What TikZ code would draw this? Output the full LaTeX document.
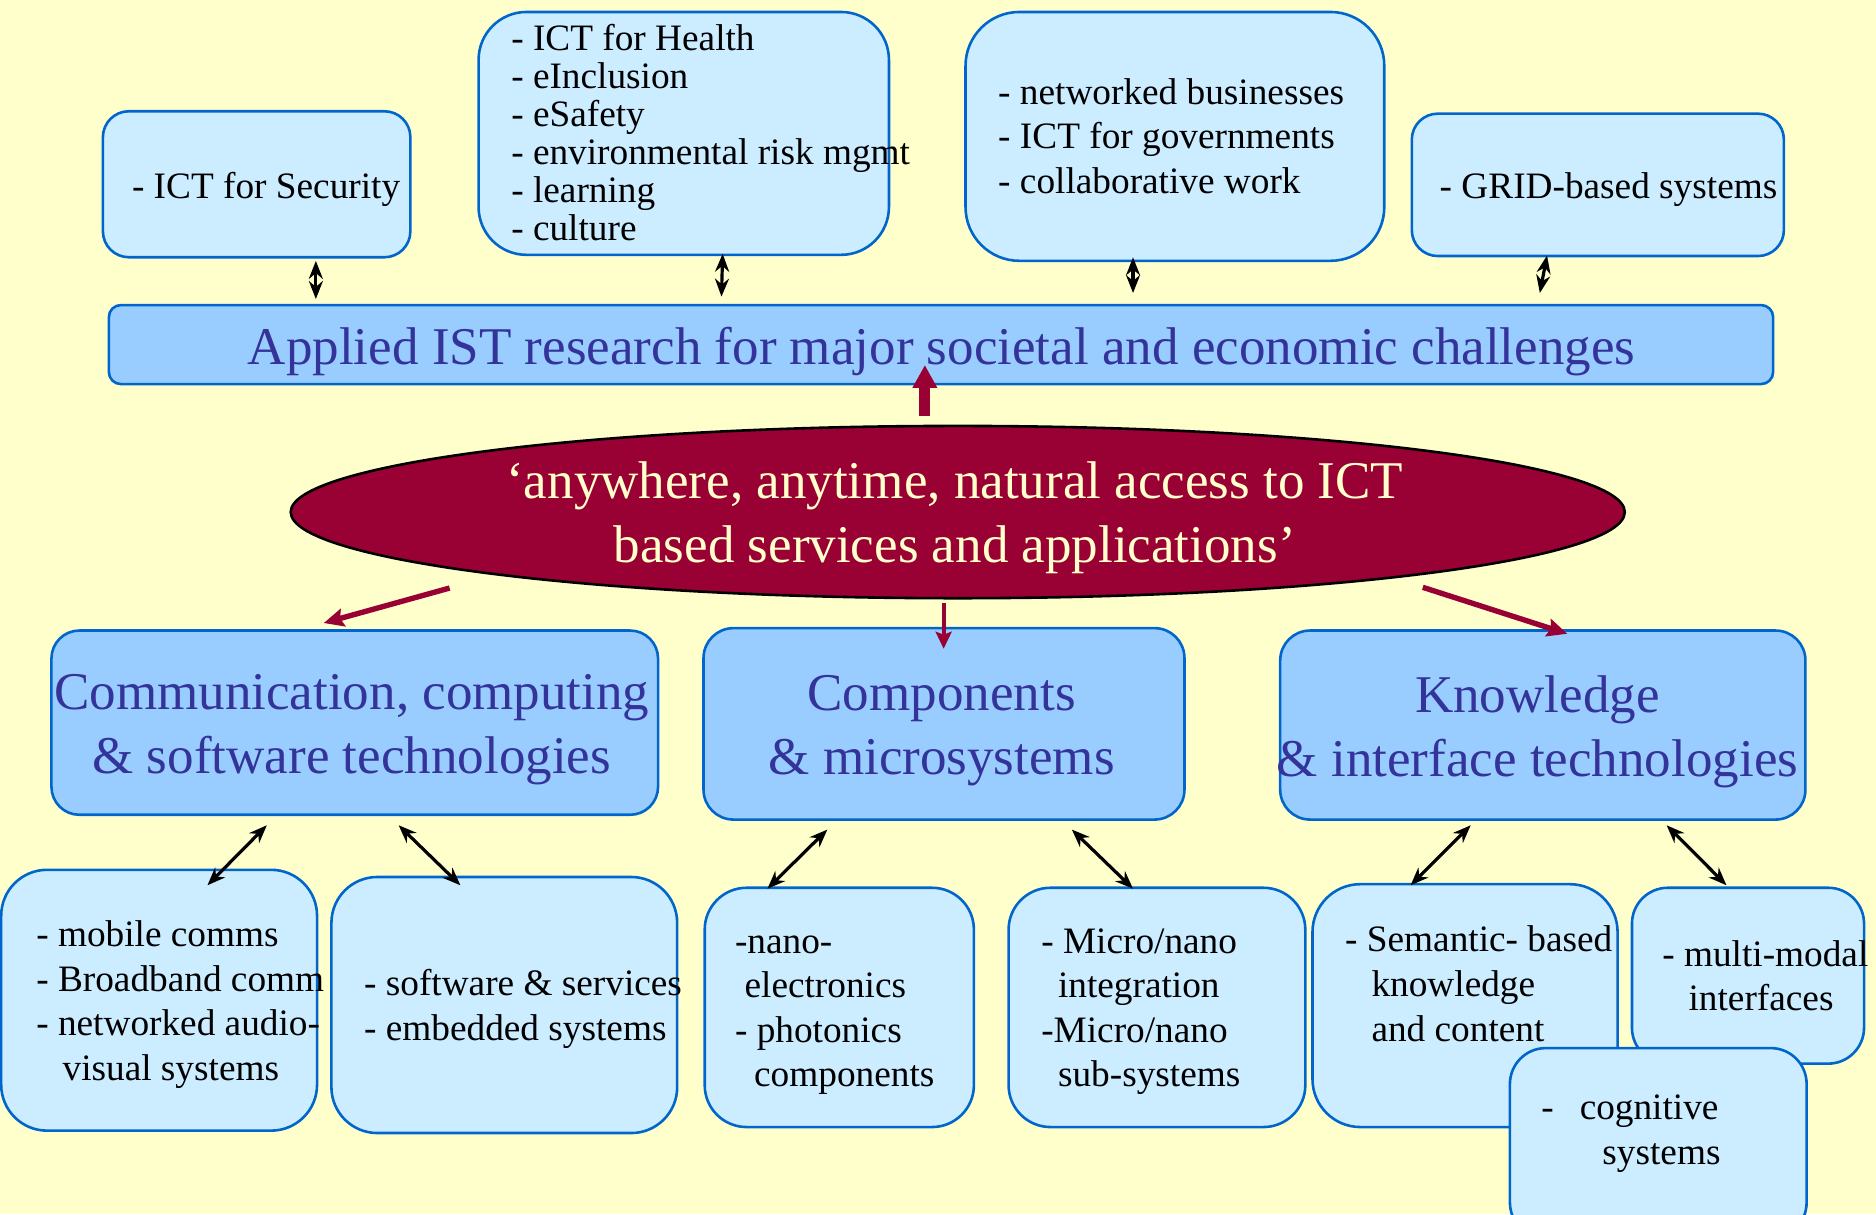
\documentclass[tikz,border=0pt]{standalone}
\usepackage{fontspec}
\setmainfont{Liberation Serif}
\usetikzlibrary{arrows.meta,shapes.geometric,calc}
\definecolor{bgc}{HTML}{FFFFCC}
\definecolor{lightb}{HTML}{CCECFF}
\definecolor{midb}{HTML}{99CCFF}
\definecolor{bord}{HTML}{0066CC}
\definecolor{titc}{HTML}{333399}
\definecolor{redc}{HTML}{990033}
\newcommand\mybox[6]{\node[#6, minimum width={(#4-#2)*0.6pt}, minimum height={(#5-#3)*0.6pt}] (#1) at ({(#2+#4)/2},{(#3+#5)/2}) {};}
\tikzset{
  lbox/.style={draw=bord, fill=lightb, line width=1.3pt, rounded corners=#1, inner sep=0pt, rectangle},
  mbox/.style={draw=bord, fill=midb, line width=1.3pt, rounded corners=#1, inner sep=0pt, rectangle},
  small/.style={font=\fontsize{18.7}{22.4}\selectfont, anchor=base west, inner sep=0pt, align=left},
  big/.style={font=\fontsize{26.6}{32.1}\selectfont, text=titc, align=center, inner sep=0pt, anchor=base},
  dbl/.style={{Stealth[length=9pt,width=7pt]}-{Stealth[length=9pt,width=7pt]}, line width=1.6pt, draw=black},
  redarr/.style={-{Stealth[length=10pt,width=9pt,inset=1.5pt]}, draw=redc, line width=2.7pt},
  redthin/.style={-{Stealth[length=8.5pt,width=8pt,inset=1.5pt]}, draw=redc, line width=1.9pt},
  redup/.style={-{Triangle[length=11.5pt,width=11.7pt]}, draw=redc, line width=5.6pt}
}
\begin{document}
\begin{tikzpicture}[x=0.6pt,y=-0.6pt]
\fill[bgc] (0,0) rectangle (1568,1015);
\useasboundingbox (0,0) rectangle (1568,1015);
\clip (0,0) rectangle (1568,1015);

% top boxes
\mybox{sec}{86}{93}{343}{215}{lbox=13pt}
\mybox{hea}{400}{10}{743}{213}{lbox=24pt}
\mybox{net}{807}{10}{1157}{218}{lbox=27pt}
\mybox{grid}{1180}{95}{1491}{214}{lbox=13pt}
\node[small] (tsec) at (110,166) {- ICT for Security};
\node[small, font=\fontsize{18.7}{19.06}\selectfont] (thea) at (427,201.3) {- ICT for Health\\- eInclusion\\- eSafety\\- environmental risk mgmt\\- learning\\- culture};
\node[small, font=\fontsize{18.7}{22.3}\selectfont] (tnet) at (834,161.6) {- networked businesses\\- ICT for governments\\- collaborative work};
\node[small] (tgrid) at (1203,166.3) {- GRID-based systems};

% bar
\mybox{bar}{91}{255}{1482}{321}{mbox=6pt}
\node[big] (tbar) at (787,304.7) {Applied IST research for major societal and economic challenges};

% ellipse
\node[ellipse, draw=black, fill=redc, line width=1.3pt, minimum width={1115*0.6pt}, minimum height={144*0.6pt}, inner sep=0pt] (ell) at (800.5,428) {};
\node[big, text=bgc] (tell) at (798,470) {‘anywhere, anytime, natural access to ICT\\based services and applications’};

% middle boxes
\mybox{comm}{43}{527}{550}{681}{mbox=14pt}
\mybox{comp}{588}{525}{990}{685}{mbox=15pt}
\mybox{know}{1070}{527}{1509}{685}{mbox=15pt}
\node[big] (tcomm) at (294,646.4) {Communication, computing\\\& software technologies};
\node[big] (tcomp) at (787,647) {Components\\\& microsystems};
\node[big] (tknow) at (1285,648.6) {Knowledge\\\& interface technologies};

% bottom boxes
\mybox{mob}{1}{727}{265}{945}{lbox=23pt}
\mybox{soft}{277}{733}{566}{947}{lbox=23pt}
\mybox{nano}{589}{742}{814}{942}{lbox=21pt}
\mybox{micro}{843}{742}{1091}{942}{lbox=21pt}
\mybox{sem}{1097}{739}{1352}{942}{lbox=24pt}
\mybox{multi}{1364}{742}{1558}{889}{lbox=18pt}
\node[small, font=\fontsize{18.7}{22.26}\selectfont] (tmob) at (30,902.7) {- mobile comms\\- Broadband comm\\- networked audio-\\\hspace*{13.2pt}visual systems};
\node[small, font=\fontsize{18.7}{22.6}\selectfont] (tsoft) at (304,869.3) {- software \& services\\- embedded systems};
\node[small, font=\fontsize{18.7}{22.3}\selectfont] (tnano) at (614,908.3) {-nano-\\\hspace*{4.8pt}electronics\\- photonics\\\hspace*{9.6pt}components};
\node[small, font=\fontsize{18.7}{22.3}\selectfont] (tmicro) at (870,908.3) {- Micro/nano\\\hspace*{8.4pt}integration\\-Micro/nano\\\hspace*{8.4pt}sub-systems};
\node[small, font=\fontsize{18.7}{22.6}\selectfont] (tsem) at (1124,870.7) {- Semantic- based\\\hspace*{13.2pt}knowledge\\\hspace*{13.2pt}and content};
\node[small, font=\fontsize{18.7}{22.1}\selectfont] (tmulti) at (1389,844.8) {- multi-modal\\\hspace*{13.2pt}interfaces};

% arrows top
\draw[dbl] ([shift={(49.5,2)}]sec.south) -- ([shift={(-522.5,-4)}]bar.north);
\draw[dbl] ([shift={(32.5,-2)}]hea.south) -- ([shift={(-183.5,-6)}]bar.north);
\draw[dbl] ([shift={(-35,-4)}]net.south) -- ([shift={(160.5,-9)}]bar.north);
\draw[dbl] ([shift={(-42.5,-1.5)}]grid.south) -- ([shift={(500.5,-9)}]bar.north);

% red arrows
\draw[redup] ([shift={(-27.5,-7)}]ell.north) -- ([shift={(-13.5,-17)}]bar.south);
\draw[redarr] ([shift={(-424.7,-9.6)}]ell.south) -- ([shift={(-25.9,-5.2)}]comm.north);
\draw[redthin] ([shift={(-11.8,2.9)}]ell.south) -- ([shift={(-0.3,18.3)}]comp.north);
\draw[redarr] ([shift={(388.7,-10.2)}]ell.south) -- ([shift={(20.4,3.8)}]know.north);

% arrows bottom
\draw[dbl] ([shift={(-73.5,7.7)}]comm.south) -- ([shift={(40.4,14)}]mob.north);
\draw[dbl] ([shift={(36.7,7.7)}]comm.south) -- ([shift={(-36.7,8)}]soft.north);
\draw[dbl] ([shift={(-97.5,7.3)}]comp.south) -- ([shift={(-60.1,1.9)}]nano.north);
\draw[dbl] ([shift={(106.9,7.3)}]comp.south) -- ([shift={(-20,1.9)}]micro.north);
\draw[dbl] ([shift={(-60.3,3.7)}]know.south) -- ([shift={(-45.5,2)}]sem.north);
\draw[dbl] ([shift={(103.5,3.7)}]know.south) -- ([shift={(-18,-1)}]multi.north);

% cognitive box on top
\mybox{cog}{1262}{876}{1510}{1035}{lbox=18pt}
\node[small, font=\fontsize{18.7}{22.6}\selectfont] (tcog) at (1288,973.7) {-\hspace{13pt}cognitive\\\hspace*{30.6pt}systems};
\end{tikzpicture}
\end{document}
